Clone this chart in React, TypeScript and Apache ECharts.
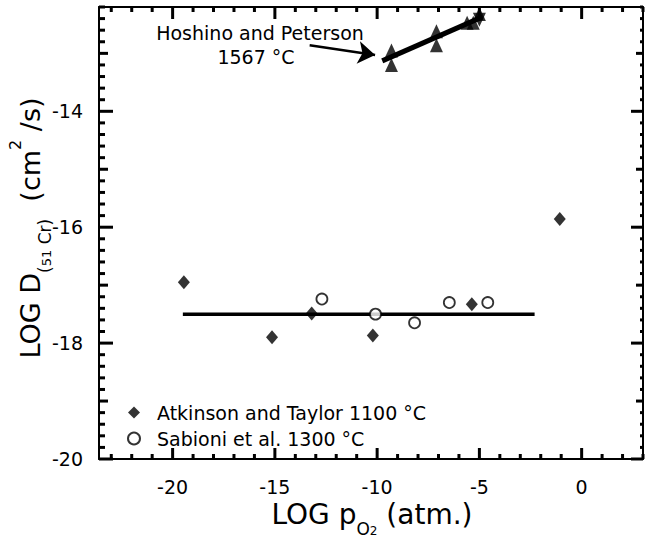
import React, { useEffect, useRef } from "react";
import * as echarts from "echarts";

// ---- data ----
const xLabelTicks = [-20, -15, -10, -5, 0];
const yLabelTicks = [-20, -18, -16, -14];

const atkinson = [
  [-19.45, -16.95],
  [-15.14, -17.9],
  [-13.2, -17.49],
  [-10.21, -17.87],
  [-5.37, -17.33],
  [-1.07, -15.86],
];
const sabioni = [
  [-12.7, -17.24],
  [-10.08, -17.5],
  [-8.17, -17.65],
  [-6.47, -17.3],
  [-4.59, -17.3],
];
const fitLine = [
  [-19.5, -17.5],
  [-2.3, -17.5],
];
const hoshinoUp = [
  [-9.3, -12.95],
  [-9.3, -13.2],
  [-7.1, -12.62],
  [-7.1, -12.86],
  [-5.6, -12.47],
  [-5.3, -12.47],
  [-5.0, -12.32],
];
const hoshinoDown = [[-5.0, -12.42]];
const hoshinoLine = [
  [-9.75, -13.13],
  [-4.85, -12.37],
];
const arrowCoords = [
  [-13.3, -12.86],
  [-10.1, -13.03],
];

const X_MIN = -23.6;
const X_MAX = 3;
const Y_MIN = -20;
const Y_MAX = -12.2;

const FONT = "DejaVu Sans";
const TICK_W = 3;

function range(a: number, b: number, step: number) {
  const out: number[] = [];
  const n = Math.round((b - a) / step);
  for (let i = 0; i <= n; i++) out.push(+(a + i * step).toFixed(2));
  return out;
}

// tick mark sets: [value, length]
const xTicksBottom = range(-23, 3, 1).map((v) => [v, xLabelTicks.includes(v) ? 11 : 5]);
const xTicksTop = range(-23, 3, 1).map((v) => [v, xLabelTicks.includes(v) ? 12 : 5]);
const yKind = (v: number) => {
  const isInt = Math.abs(v - Math.round(v)) < 1e-6;
  return isInt && Math.round(v) % 2 === 0 ? 2 : isInt ? 1 : 0;
};
const yTicksLeft = range(Y_MIN, Y_MAX, 0.2).map((v) => [v, [6, 9, 14][yKind(v)]]);
const yTicksRight = range(Y_MIN, Y_MAX, 0.2).map((v) => [v, [3, 7, 12][yKind(v)]]);

function xAxisDef(pos: string, labels?: number[]) {
  return {
    type: "value",
    position: pos,
    min: X_MIN,
    max: X_MAX,
    axisLine: { show: true, onZero: false, lineStyle: { color: "#000", width: 2 } },
    axisTick: { show: false },
    axisLabel: labels
      ? { show: true, customValues: labels, fontSize: 19, fontFamily: FONT, color: "#000", margin: 18 }
      : { show: false },
    splitLine: { show: false },
  };
}
function yAxisDef(pos: string, labels?: number[]) {
  return {
    type: "value",
    position: pos,
    min: Y_MIN,
    max: Y_MAX,
    axisLine: { show: true, onZero: false, lineStyle: { color: "#000", width: 2 } },
    axisTick: { show: false },
    axisLabel: labels
      ? { show: true, customValues: labels, fontSize: 19, fontFamily: FONT, color: "#000", margin: 16 }
      : { show: false },
    splitLine: { show: false },
  };
}

// tick marks drawn as scatter symbols (thin rects) offset inwards from the frame
function tickSeries(data: number[][], side: string) {
  const horizontal = side === "left" || side === "right";
  return {
    type: "scatter",
    silent: true,
    clip: false,
    z: 6,
    symbol: "rect",
    itemStyle: { color: "#000", opacity: 1 },
    emphasis: { disabled: true },
    data: data.map(([v, len]) => {
      const value =
        side === "bottom" ? [v, Y_MIN] : side === "top" ? [v, Y_MAX] : side === "left" ? [X_MIN, v] : [X_MAX, v];
      const size = horizontal ? [len, TICK_W] : [TICK_W, len];
      const off =
        side === "bottom" ? [0, -len / 2] : side === "top" ? [0, len / 2] : side === "left" ? [len / 2, 0] : [-len / 2, 0];
      return { value, symbolSize: size, symbolOffset: off };
    }),
  };
}

export default function App() {
  const ref = useRef<HTMLDivElement>(null);
  useEffect(() => {
    const chart = echarts.init(ref.current!, null, { renderer: "svg" });
    const option: any = {
      animation: false,
      backgroundColor: "#fff",
      grid: { left: 99, right: 4, top: 7, bottom: 80, containLabel: false },
      xAxis: [xAxisDef("bottom", xLabelTicks), xAxisDef("top")],
      yAxis: [yAxisDef("left", yLabelTicks), yAxisDef("right")],
      legend: {
        orient: "vertical",
        left: 122,
        top: 398,
        itemWidth: 12,
        itemHeight: 12,
        itemGap: 7,
        selectedMode: false,
        textStyle: { fontSize: 19, fontFamily: FONT, color: "#000", padding: [0, 0, 0, 12] },
        data: [
          { name: "Atkinson and Taylor 1100 °C", icon: "diamond" },
          { name: "Sabioni et al. 1300 °C", icon: "circle" },
        ],
      },
      series: [
        tickSeries(xTicksBottom, "bottom"),
        tickSeries(xTicksTop, "top"),
        tickSeries(yTicksLeft, "left"),
        tickSeries(yTicksRight, "right"),
        {
          type: "line",
          data: fitLine,
          symbol: "none",
          lineStyle: { color: "#000", width: 3.5 },
          z: 2,
        },
        {
          type: "line",
          data: hoshinoLine,
          symbol: "none",
          lineStyle: { color: "#000", width: 5 },
          z: 2,
        },
        {
          type: "lines",
          coordinateSystem: "cartesian2d",
          xAxisIndex: 0,
          yAxisIndex: 0,
          data: [{ coords: arrowCoords }],
          symbol: ["none", "arrow"],
          symbolSize: 17,
          lineStyle: { color: "#000", width: 2.5, opacity: 1, curveness: 0 },
          z: 2,
        },
        {
          name: "Atkinson and Taylor 1100 °C",
          type: "scatter",
          data: atkinson,
          symbol: "diamond",
          symbolSize: [12, 14],
          itemStyle: { color: "#000" },
          z: 3,
        },
        {
          name: "Sabioni et al. 1300 °C",
          type: "scatter",
          data: sabioni,
          symbol: "circle",
          symbolSize: 11,
          itemStyle: { color: "#fff", borderColor: "#000", borderWidth: 1.8 },
          z: 3,
        },
        {
          type: "scatter",
          data: hoshinoUp,
          symbol: "triangle",
          symbolSize: [13, 14],
          itemStyle: { color: "#000" },
          z: 3,
        },
        {
          type: "scatter",
          data: hoshinoDown,
          symbol: "triangle",
          symbolRotate: 180,
          symbolSize: [13, 14],
          itemStyle: { color: "#000" },
          z: 3,
        },
      ],
      graphic: [
        {
          type: "text",
          x: 260,
          y: 33,
          style: {
            text: "Hoshino and Peterson",
            fontSize: 19,
            fontFamily: FONT,
            fill: "#000",
            align: "center",
            verticalAlign: "middle",
          },
        },
        {
          type: "text",
          x: 256,
          y: 57,
          style: {
            text: "1567 °C",
            fontSize: 19,
            fontFamily: FONT,
            fill: "#000",
            align: "center",
            verticalAlign: "middle",
          },
        },
        {
          type: "text",
          x: 372,
          y: 514,
          style: {
            text: "{m|LOG p}{s|O}{ss|2}{m| (atm.)}",
            fontFamily: FONT,
            fill: "#000",
            align: "center",
            verticalAlign: "middle",
            rich: {
              m: { fontSize: 28, lineHeight: 46, verticalAlign: "middle", fontFamily: FONT },
              s: { fontSize: 17, lineHeight: 24, verticalAlign: "bottom", fontFamily: FONT },
              ss: { fontSize: 12, lineHeight: 12, verticalAlign: "bottom", fontFamily: FONT },
            },
          },
        },
        {
          type: "text",
          x: 30,
          y: 228,
          rotation: Math.PI / 2,
          style: {
            text: "{m|LOG D}{s|(}{ss|51}{s| Cr)}{m|  (cm}{sup|2}{m| /s)}",
            fontFamily: FONT,
            fill: "#000",
            align: "center",
            verticalAlign: "middle",
            rich: {
              m: { fontSize: 27, lineHeight: 46, verticalAlign: "middle", fontFamily: FONT },
              s: { fontSize: 17, lineHeight: 24, verticalAlign: "bottom", fontFamily: FONT },
              ss: { fontSize: 13, lineHeight: 34, verticalAlign: "bottom", fontFamily: FONT },
              sup: { fontSize: 16, lineHeight: 17, verticalAlign: "top", fontFamily: FONT },
            },
          },
        },
      ],
    };
    chart.setOption(option);
    return () => chart.dispose();
  }, []);
  return (
    <div
      ref={ref}
      style={{ position: "absolute", left: 0, top: 0, width: 647, height: 539, background: "#fff" }}
    />
  );
}
